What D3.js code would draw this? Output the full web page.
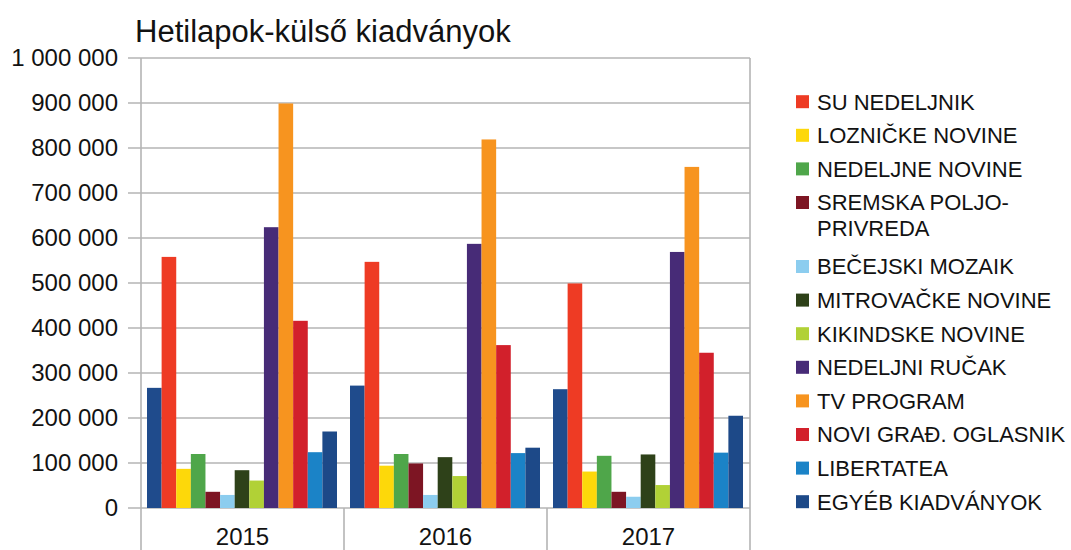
<!DOCTYPE html>
<html>
<head>
<meta charset="utf-8">
<script src="https://cdn.jsdelivr.net/npm/d3@7"></script>
<style>
  body { margin: 0; background: #fff; }
  text { font-family: "Liberation Sans", Arial, sans-serif; fill: #121212; }
</style>
</head>
<body>
<svg id="chart" width="1071" height="550"></svg>
<script>
// years on the x axis
var years = ['2015', '2016', '2017'];

// series names (first series has no legend entry in the original)
var seriesNames = ['', 'SU NEDELJNIK', 'LOZNIČKE NOVINE', 'NEDELJNE NOVINE', 'SREMSKA POLJO-\nPRIVREDA',
  'BEČEJSKI MOZAIK', 'MITROVAČKE NOVINE', 'KIKINDSKE NOVINE', 'NEDELJNI RUČAK', 'TV PROGRAM',
  'NOVI GRAĐ. OGLASNIK', 'LIBERTATEA', 'EGYÉB KIADVÁNYOK'];

var seriesColors = ['#1f4b8c', '#ee3b24', '#fdd80a', '#4fa64a', '#7d1523', '#8ccdef', '#2e4119',
  '#b1d136', '#472b77', '#f7941f', '#d2202b', '#1b83c7', '#1d4988'];

// values per series: 2015, 2016, 2017
var values2015 = [267000, 558000, 87000, 120000, 36000, 29000, 84000, 61000, 624000, 899000, 416000, 124000, 170000];
var values2016 = [272000, 547000, 94000, 120000, 99000, 29000, 113000, 71000, 587000, 819000, 362000, 122000, 134000];
var values2017 = [264000, 499000, 81000, 116000, 36000, 25000, 119000, 51000, 569000, 758000, 345000, 123000, 205000];

var yTicks = [0, 100000, 200000, 300000, 400000, 500000, 600000, 700000, 800000, 900000, 1000000];

var valuesByYear = [values2015, values2016, values2017];

var LEFT = 141, RIGHT = 750, TOP = 58, BOTTOM = 508;
var svg = d3.select('#chart');
var gridColor = '#b4b4b4';

var locale = d3.formatLocale({decimal: ',', thousands: ' ', grouping: [3], currency: ['', '']});
var fmt = locale.format(',d');

var x0 = d3.scaleBand()
  .domain(years)
  .range([LEFT, RIGHT])
  .padding(0);

var x1 = d3.scaleBand()
  .domain(d3.range(seriesNames.length))
  .range([6, x0.bandwidth() - 7])
  .padding(0);

var y = d3.scaleLinear()
  .domain([0, 1000000])
  .range([BOTTOM, TOP]);

// title
svg.append('text')
  .attr('x', 135)
  .attr('y', 42)
  .attr('font-size', '31px')
  .text('Hetilapok-külső kiadványok');

// horizontal grid lines
svg.append('g')
  .selectAll('line')
  .data(yTicks)
  .enter().append('line')
  .attr('x1', LEFT - 13)
  .attr('x2', RIGHT)
  .attr('y1', d => y(d))
  .attr('y2', d => y(d))
  .attr('stroke', gridColor)
  .attr('stroke-width', 1.6);

// y axis labels
var yAxis = svg.append('g')
  .attr('transform', 'translate(' + LEFT + ',0)')
  .call(d3.axisLeft(y).tickValues(yTicks).tickFormat(fmt).tickSize(13).tickPadding(10));
yAxis.select('.domain').remove();
yAxis.selectAll('.tick line').remove();
yAxis.selectAll('.tick text')
  .attr('font-size', '24px')
  .attr('font-family', '"Liberation Sans", Arial, sans-serif')
  .attr('fill', '#121212');

// bars
var groups = svg.append('g')
  .selectAll('g')
  .data(years)
  .enter().append('g')
  .attr('transform', d => 'translate(' + x0(d) + ',0)');

groups.selectAll('rect')
  .data((d, i) => valuesByYear[i].map((v, j) => ({v: v, s: j})))
  .enter().append('rect')
  .attr('x', d => x1(d.s))
  .attr('width', x1.bandwidth())
  .attr('y', d => y(d.v))
  .attr('height', d => BOTTOM - y(d.v))
  .attr('fill', d => seriesColors[d.s]);

// frame: left axis, right border, category separators
var vLines = [LEFT].concat(years.map(d => x0(d) + x0.bandwidth()));
svg.append('g')
  .selectAll('line')
  .data(vLines)
  .enter().append('line')
  .attr('x1', d => d)
  .attr('x2', d => d)
  .attr('y1', (d, i) => (i === 0 || i === vLines.length - 1) ? TOP : BOTTOM)
  .attr('y2', 550)
  .attr('stroke', gridColor)
  .attr('stroke-width', 1.6);

// x axis labels
svg.append('g')
  .selectAll('text')
  .data(years)
  .enter().append('text')
  .attr('x', d => x0(d) + x0.bandwidth() / 2)
  .attr('y', 545)
  .attr('text-anchor', 'middle')
  .attr('font-size', '24px')
  .text(d => d);

// legend
var legendItems = seriesNames.map((n, i) => ({name: n, color: seriesColors[i]})).slice(1);
var ly = 101.7, extra = 0;
legendItems.forEach(function(d, i) {
  d.y = ly + 33.6 * i + extra;
  if (d.name.indexOf('\n') >= 0) extra += 30.4;
});

var legend = svg.append('g')
  .selectAll('g')
  .data(legendItems)
  .enter().append('g')
  .attr('transform', d => 'translate(796,' + d.y + ')');

legend.append('rect')
  .attr('x', 0)
  .attr('y', -6.5)
  .attr('width', 13)
  .attr('height', 13)
  .attr('fill', d => d.color);

legend.append('text')
  .attr('x', 21)
  .attr('font-size', '22px')
  .selectAll('tspan')
  .data(d => d.name.split('\n'))
  .enter().append('tspan')
  .attr('x', 21)
  .attr('y', (d, i) => i * 26)
  .attr('dy', '0.36em')
  .text(d => d);
</script>
</body>
</html>
